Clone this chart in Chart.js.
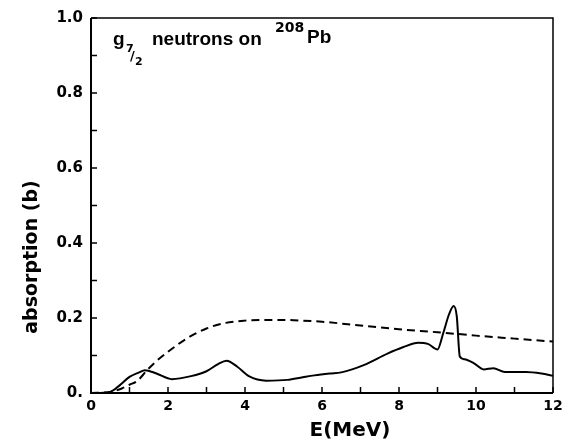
<!DOCTYPE html>
<html><head><meta charset="utf-8">
<script src="https://cdn.jsdelivr.net/npm/chart.js@4/dist/chart.umd.min.js"></script>
<style>html,body{margin:0;padding:0;background:#fff;}canvas{display:block;}</style>
</head><body>
<canvas id="c" width="564" height="445"></canvas>
<script>
// Data
const solidEnergy = [0, 0.5, 0.75, 1.0, 1.25, 1.4, 1.7, 2.1, 2.6, 3.0, 3.3, 3.52, 3.8, 4.1, 4.55, 5.1, 5.5, 5.8, 6.2, 6.5, 7.1, 7.7, 8.1, 8.5, 8.75, 9.0, 9.15, 9.3, 9.42, 9.5, 9.58, 9.7, 9.95, 10.2, 10.45, 10.75, 11.3, 11.7, 12];
const solidValues = [0, 0.003, 0.021, 0.043, 0.055, 0.061, 0.052, 0.037, 0.045, 0.058, 0.077, 0.086, 0.07, 0.045, 0.033, 0.035, 0.042, 0.047, 0.052, 0.055, 0.075, 0.105, 0.122, 0.134, 0.131, 0.116, 0.16, 0.21, 0.232, 0.205, 0.097, 0.09, 0.079, 0.063, 0.066, 0.056, 0.056, 0.052, 0.046];
const dashedEnergy = [0, 0.5, 0.8, 1.0, 1.2, 1.45, 1.7, 2.0, 2.5, 3.0, 3.5, 4.0, 4.5, 5.0, 5.5, 6.0, 7.0, 8.0, 9.0, 10.0, 11.0, 12.0];
const dashedValues = [0, 0.003, 0.012, 0.022, 0.032, 0.06, 0.085, 0.11, 0.146, 0.172, 0.187, 0.193, 0.195, 0.195, 0.193, 0.19, 0.18, 0.17, 0.162, 0.153, 0.145, 0.137];
const xTickLabels = ['0', '2', '4', '6', '8', '10', '12'];
const yTickLabels = ['0.', '0.2', '0.4', '0.6', '0.8', '1.0'];
const xTitle = 'E(MeV)';
const yTitle = 'absorption (b)';

const FONT = '"DejaVu Sans", sans-serif';
const TFONT = '"Liberation Sans", Arial, sans-serif';
const toPts = (xs, ys) => xs.map((x, i) => ({x: x, y: ys[i]}));

const framePlugin = {
  id: 'frame',
  afterDraw(chart) {
    const ctx = chart.ctx, a = chart.chartArea;
    const xs = chart.scales.x, ys = chart.scales.y;
    ctx.save();
    ctx.strokeStyle = '#000';
    ctx.lineWidth = 2;
    ctx.beginPath();
    ctx.moveTo(a.left, a.top); ctx.lineTo(a.left, a.bottom); ctx.lineTo(a.right, a.bottom);
    ctx.stroke();
    ctx.lineWidth = 1.5;
    ctx.beginPath();
    ctx.moveTo(a.left, a.top); ctx.lineTo(a.right, a.top); ctx.lineTo(a.right, a.bottom);
    ctx.stroke();
    ctx.lineWidth = 1.5;
    ctx.beginPath();
    xs.ticks.forEach(t => { const p = xs.getPixelForValue(t.value); ctx.moveTo(p, a.bottom); ctx.lineTo(p, a.bottom - 6); });
    ys.ticks.forEach(t => { const p = ys.getPixelForValue(t.value); ctx.moveTo(a.left, p); ctx.lineTo(a.left + 6, p); });
    ctx.stroke();
    // titles
    ctx.fillStyle = '#000';
    ctx.textAlign = 'center';
    ctx.textBaseline = 'middle';
    ctx.font = 'bold 20px ' + FONT;
    ctx.fillText(xTitle, 350, 431);
    ctx.save();
    ctx.translate(32, 257);
    ctx.rotate(-Math.PI / 2);
    ctx.font = 'bold 19px ' + FONT;
    ctx.fillText(yTitle, 0, 0);
    ctx.restore();
    // in-plot label: g7/2 neutrons on 208Pb
    ctx.textAlign = 'left';
    ctx.textBaseline = 'alphabetic';
    ctx.font = 'bold 19px ' + TFONT;
    ctx.fillText('g', 113, 45);
    ctx.font = 'bold 11px ' + FONT;
    ctx.fillText('7', 126, 52);
    ctx.font = 'bold 13px ' + FONT;
    ctx.fillText('/', 130, 60);
    ctx.font = 'bold 11px ' + FONT;
    ctx.fillText('2', 135, 65);
    ctx.font = 'bold 19px ' + TFONT;
    ctx.fillText('neutrons on', 152, 45);
    ctx.font = 'bold 14px ' + FONT;
    ctx.fillText('208', 275, 32);
    ctx.font = 'bold 19px ' + TFONT;
    ctx.fillText('Pb', 307, 43);
    ctx.restore();
  }
};

new Chart(document.getElementById('c'), {
  type: 'line',
  data: {
    datasets: [
      { data: toPts(solidEnergy, solidValues), borderColor: '#000', borderWidth: 2, pointRadius: 0, fill: false, cubicInterpolationMode: 'monotone' },
      { data: toPts(dashedEnergy, dashedValues), borderColor: '#000', borderWidth: 2, borderDash: [8, 5], pointRadius: 0, fill: false, cubicInterpolationMode: 'monotone' }
    ]
  },
  options: {
    responsive: false,
    animation: false,
    layout: { padding: { top: 18, right: 11, left: 0, bottom: 0 } },
    plugins: { legend: { display: false }, tooltip: { enabled: false } },
    scales: {
      x: {
        type: 'linear', min: 0, max: 12,
        grid: { display: false, drawTicks: false },
        border: { display: false },
        afterFit(s) { s.height = 52; s.paddingLeft = 0; s.paddingRight = 0; },
        ticks: {
          stepSize: 1, padding: 5, color: '#000', maxRotation: 0, autoSkip: false,
          font: { family: FONT, size: 14, weight: 'bold' },
          callback: v => (Math.round(v) % 2 === 0 ? xTickLabels[Math.round(v) / 2] : '')
        }
      },
      y: {
        type: 'linear', min: 0, max: 1,
        grid: { display: false, drawTicks: false },
        border: { display: false },
        afterFit(s) { s.width = 91; s.paddingTop = 0; s.paddingBottom = 0; },
        ticks: {
          stepSize: 0.1, padding: 8, color: '#000', autoSkip: false,
          font: { family: FONT, size: 15, weight: 'bold' },
          callback: v => { const k = Math.round(v * 10); return k % 2 === 0 ? yTickLabels[k / 2] : ''; }
        }
      }
    }
  },
  plugins: [framePlugin]
});
</script>
</body></html>
